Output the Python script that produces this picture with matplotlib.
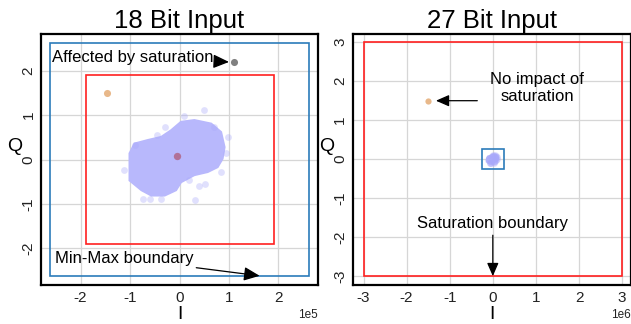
import matplotlib
matplotlib.use("Agg")
from matplotlib import pyplot as plt
from matplotlib.patches import Rectangle

plt.rcParams['font.family'] = ['Liberation Sans', 'DejaVu Sans']
plt.rcParams['axes.unicode_minus'] = False

# outline of the dense IQ cloud (units of 1e5)
cloud_i = [-1.01, -1.01, -0.77, -0.57, -0.30, -0.07, 0.03, 0.30, 0.57, 0.77,
           0.87, 0.91, 0.84, 0.64, 0.30, 0.03, -0.17, -0.37, -0.64, -0.91]
cloud_q = [0.14, -0.47, -0.69, -0.81, -0.81, -0.69, -0.51, -0.35, -0.28, -0.17,
           0.02, 0.28, 0.62, 0.81, 0.89, 0.85, 0.66, 0.51, 0.44, 0.36]
# loose samples around the cloud
out_i = [0.49, 0.10, -1.12, -0.74, 0.32, 0.39, 0.52, 0.99, 0.94, -0.60, -0.37,
         -0.30, -0.91, 0.84, 0.70, -0.45, 0.20]
out_q = [1.11, 0.98, -0.23, -0.88, -0.92, -0.60, -0.56, 0.50, 0.14, -0.88, -0.88,
         0.74, 0.32, -0.28, 0.74, 0.55, -0.45]

center_pt = (-0.05e5, 0.07e5)
sat_pt = (1.11e5, 2.2e5)          # affected by saturation
test_pt_18 = (-1.47e5, 1.5e5)
test_pt_27 = (-1.5e6, 1.5e6)

minmax_18 = 2 ** 18               # Min-Max boundary
sat_18 = 1.9e5                    # saturation boundary, 18 bit
sat_27 = 3.0e6                    # saturation boundary, 27 bit

cloud_col = '#b8b8fc'

fig = plt.figure(figsize=(6.31, 3.24), dpi=100)
ax1 = fig.add_axes([0.065, 0.120, 0.439, 0.775])
ax2 = fig.add_axes([0.559, 0.120, 0.4406, 0.775])


def style(ax):
    ax.grid(True, color='#d6d6d6', linewidth=0.9)
    ax.set_axisbelow(True)
    for s in ax.spines.values():
        s.set_color('black')
        s.set_linewidth(1.6)
    ax.ticklabel_format(style='sci', scilimits=(0, 0), useMathText=False)
    ax.tick_params(length=0, labelsize=11, colors='#222222', pad=4)
    for lab in ax.get_yticklabels():
        lab.set_rotation(90)
        lab.set_va('center')
    ax.set_xlabel('I', fontsize=14, labelpad=1)
    ax.set_ylabel('Q', fontsize=14, rotation=0)
    ax.yaxis.set_label_coords(-0.095, 0.52)
    ax.yaxis.offsetText.set_visible(False)
    ax.xaxis.offsetText.set_fontsize(8.5)


def box(ax, half, color):
    ax.add_patch(Rectangle((-half, -half), 2 * half, 2 * half, fill=False,
                           edgecolor=color, linewidth=1.2, zorder=3))


def draw_cloud(ax, edge):
    xs = [v * 1e5 for v in cloud_i]
    ys = [v * 1e5 for v in cloud_q]
    ax.fill(xs, ys, color=cloud_col, edgecolor=cloud_col, linewidth=edge, zorder=2)
    ax.scatter([v * 1e5 for v in out_i], [v * 1e5 for v in out_q], s=24,
               color='#a8a8fa', alpha=0.35, linewidths=0, zorder=2)


arrow = dict(arrowstyle='-|>,head_length=0.8,head_width=0.35', color='black',
             lw=0.9, shrinkA=0, shrinkB=0)

# 18 bit
draw_cloud(ax1, 1.5)
ax1.scatter(*center_pt, s=28, color='#b0607f', alpha=0.8, linewidths=0, zorder=4)
ax1.scatter(*test_pt_18, s=26, color='#e8b88a', linewidths=0, zorder=4)
ax1.scatter(*sat_pt, s=26, color='#808080', linewidths=0, zorder=4)
box(ax1, minmax_18, '#2b7bba')
box(ax1, sat_18, '#ff2020')
ax1.set_xlim(-2.8e5, 2.8e5)
ax1.set_ylim(-2.83e5, 2.83e5)
ax1.set_xticks([-2e5, -1e5, 0, 1e5, 2e5])
ax1.set_yticks([-2e5, -1e5, 0, 1e5, 2e5])
ax1.set_title('18 Bit Input', fontsize=18.5, pad=4)
ax1.annotate('Affected by saturation', xy=(1.0e5, 2.2e5), xytext=(-2.58e5, 2.29e5),
             fontsize=12, va='center', ha='left', arrowprops=arrow, zorder=5)
ax1.annotate('Min-Max boundary', xy=(1.62e5, -2.62e5), xytext=(-2.52e5, -2.23e5),
             fontsize=12, va='center', ha='left', arrowprops=arrow, zorder=5)
style(ax1)

# 27 bit
draw_cloud(ax2, 3.5)
ax2.scatter(*test_pt_27, s=20, color='#e8b88a', linewidths=0, zorder=4)
box(ax2, minmax_18, '#2b7bba')
box(ax2, sat_27, '#ff2020')
ax2.set_xlim(-3.25e6, 3.2e6)
ax2.set_ylim(-3.23e6, 3.21e6)
ax2.set_xticks([-3e6, -2e6, -1e6, 0, 1e6, 2e6, 3e6])
ax2.set_yticks([-3e6, -2e6, -1e6, 0, 1e6, 2e6, 3e6])
ax2.set_title('27 Bit Input', fontsize=18.5, pad=4)
ax2.annotate('', xy=(-1.32e6, 1.5e6), xytext=(-0.36e6, 1.5e6), arrowprops=arrow)
ax2.text(1.03e6, 1.83e6, 'No impact of\nsaturation', fontsize=12,
         ha='center', va='center', linespacing=1.2)
ax2.text(0.0, -1.64e6, 'Saturation boundary', fontsize=12, ha='center', va='center')
ax2.annotate('', xy=(0.0, -3.0e6), xytext=(0.0, -1.95e6), arrowprops=arrow)
style(ax2)

fig.savefig('out.png', dpi=100)
